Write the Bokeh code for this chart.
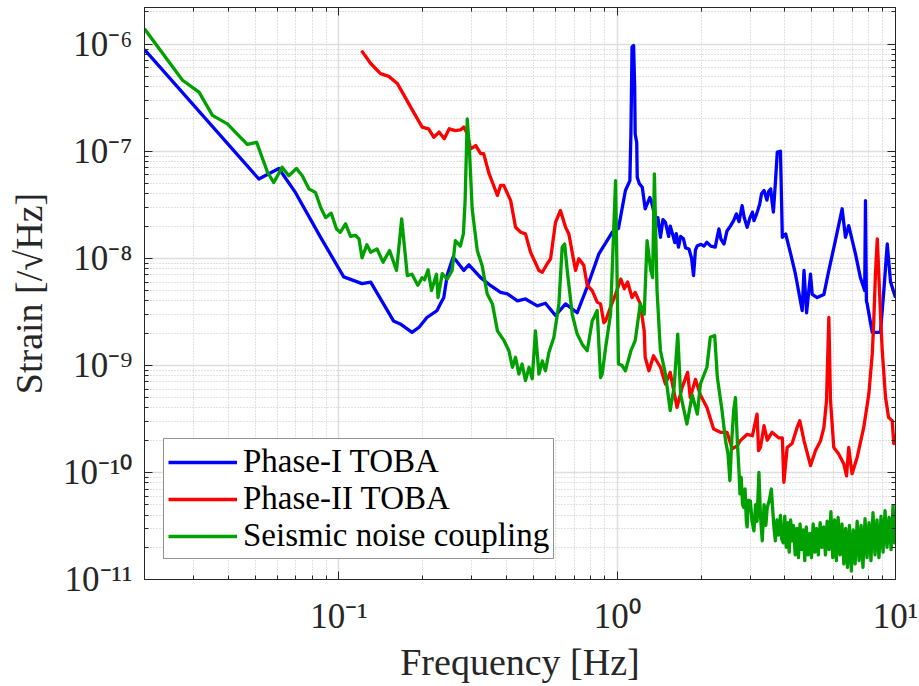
from bokeh.plotting import figure
from bokeh.models import (LogAxis, FixedTicker, Legend, LegendItem, Range1d,
                          CustomJSTickFormatter, CustomLabelingPolicy)
from bokeh.embed import file_html
from bokeh.resources import INLINE

# ---------------- data ----------------
blue_f = [0.02, 0.0515, 0.0608, 0.0698, 0.0859, 0.104, 0.121, 0.130, 0.157, 0.166,
          0.183, 0.194, 0.207, 0.225, 0.232, 0.238, 0.245, 0.257, 0.263, 0.281, 0.293,
          0.323, 0.351, 0.381, 0.403, 0.438, 0.468, 0.516, 0.552, 0.600, 0.652, 0.718,
          0.780, 0.859, 0.959, 1.01, 1.07, 1.11, 1.12, 1.13, 1.145, 1.155, 1.16, 1.175,
          1.18, 1.20, 1.23, 1.26, 1.31, 1.33, 1.35, 1.38, 1.40, 1.43, 1.46, 1.49, 1.53,
          1.55, 1.58, 1.61, 1.63, 1.66, 1.69, 1.73, 1.76, 1.81, 1.85, 1.88, 1.91, 1.94,
          2.00, 2.05, 2.10, 2.17, 2.25, 2.29, 2.32, 2.36, 2.42, 2.48, 2.55, 2.62, 2.68,
          2.74, 2.81, 2.86, 2.93, 3.00, 3.06, 3.10, 3.17, 3.25, 3.30, 3.37, 3.45, 3.50,
          3.56, 3.60, 3.64, 3.70, 3.76, 3.86, 3.92, 4.03, 4.20, 4.37, 4.62, 4.69, 4.79,
          4.95, 5.02, 5.23, 5.53, 5.76, 6.08, 6.43, 6.61, 6.79, 7.18, 7.48, 7.75, 7.80,
          7.86, 7.91, 8.25, 8.83, 9.08, 9.34, 9.60, 9.92, 10.0]
blue_s = [8.9e-7, 5.5e-8, 6.9e-8, 4.1e-8, 1.57e-8, 6.7e-9, 5.8e-9, 6.0e-9, 2.6e-9, 2.44e-9,
          2.03e-9, 2.27e-9, 2.8e-9, 3.25e-9, 3.8e-9, 4.3e-9, 7.0e-9, 1.02e-8, 9.6e-9, 7.7e-9, 8.7e-9,
          6.6e-9, 5.55e-9, 4.8e-9, 4.65e-9, 4.0e-9, 4.17e-9, 3.6e-9, 3.8e-9, 2.92e-9, 3.75e-9, 3.1e-9,
          5.4e-9, 1.1e-8, 1.75e-8, 1.9e-8, 4.3e-8, 5.3e-8, 1.5e-7, 9.4e-7, 9.7e-7, 4.0e-7, 1.45e-7, 1.2e-7,
          5.7e-8, 5.0e-8, 4.6e-8, 2.9e-8, 3.7e-8, 3.3e-8, 2.8e-8, 2.0e-8, 2.4e-8, 1.57e-8, 2.3e-8, 2.17e-8, 1.6e-8,
          2.0e-8, 1.69e-8, 1.4e-8, 1.7e-8, 1.27e-8, 1.6e-8, 1.52e-8, 1.25e-8, 1.22e-8, 1.0e-8, 6.9e-9, 1.2e-8, 1.31e-8,
          1.35e-8, 1.3e-8, 1.41e-8, 1.3e-8, 1.27e-8, 1.6e-8, 1.88e-8, 1.5e-8, 1.36e-8, 1.8e-8, 2.0e-8, 2.25e-8, 2.6e-8,
          2.2e-8, 3.1e-8, 2.4e-8, 1.95e-8, 2.4e-8, 2.7e-8, 2.25e-8, 2.6e-8, 3.2e-8, 4.0e-8, 4.3e-8, 3.5e-8, 4.2e-8,
          4.45e-8, 3.4e-8, 2.7e-8, 5.0e-8, 9.8e-8, 1.0e-7, 1.57e-8, 1.69e-8, 1.1e-8, 7.1e-9, 3.25e-9, 7.7e-9, 3.1e-9,
          7.1e-9, 4.6e-9, 4.3e-9, 4.6e-9, 7.7e-9, 1.46e-8, 2.9e-8, 1.57e-8, 2.02e-8, 1.1e-8, 6.6e-9, 5.0e-9, 3.46e-8,
          4.0e-9, 3.75e-9, 2.03e-9, 2.03e-9, 5.0e-9, 1.36e-8, 6.0e-9, 4.6e-9, 4.3e-9]

red_f = [0.1205, 0.130, 0.141, 0.151, 0.162, 0.181, 0.199, 0.210, 0.219, 0.229, 0.239, 0.249,
         0.262, 0.273, 0.281, 0.289, 0.297, 0.310, 0.323, 0.331, 0.346, 0.371, 0.381, 0.391,
         0.414, 0.431, 0.450, 0.468, 0.488, 0.523, 0.538, 0.560, 0.576, 0.600, 0.625, 0.652,
         0.670, 0.708, 0.728, 0.758, 0.780, 0.813, 0.847, 0.871, 0.895, 0.908, 0.946, 0.986,
         1.03, 1.06, 1.09, 1.13, 1.16, 1.21, 1.25, 1.26, 1.30, 1.35, 1.43, 1.49, 1.55, 1.64,
         1.71, 1.79, 1.83, 1.91, 1.99, 2.10, 2.22, 2.35, 2.48, 2.59, 2.70, 2.77, 2.93, 3.06,
         3.18, 3.22, 3.27, 3.37, 3.46, 3.60, 3.81, 3.92, 3.97, 4.08, 4.25, 4.43, 4.53, 4.69,
         4.95, 5.16, 5.38, 5.53, 5.65, 5.76, 5.84, 6.00, 6.25, 6.52, 6.67, 6.79, 6.98, 7.28,
         7.69, 8.02, 8.25, 8.35, 8.47, 8.60, 8.70, 8.83, 8.96, 9.21, 9.44, 9.73, 9.86, 10.0]
red_s = [8.7e-7, 6.6e-7, 5.3e-7, 5.0e-7, 4.3e-7, 2.58e-7, 1.68e-7, 1.62e-7, 1.35e-7, 1.51e-7, 1.31e-7, 1.62e-7,
         1.56e-7, 1.58e-7, 1.68e-7, 1.46e-7, 1.05e-7, 1.13e-7, 9.5e-8, 9.5e-8, 6.2e-8, 3.86e-8, 4.8e-8, 4.8e-8,
         3.46e-8, 1.95e-8, 1.75e-8, 1.69e-8, 1.14e-8, 7.7e-9, 7.4e-9, 8.9e-9, 9.9e-9, 2.17e-8, 2.8e-8, 1.95e-8,
         1.69e-8, 7.7e-9, 9.9e-9, 8.6e-9, 5.6e-9, 5.0e-9, 3.9e-9, 3.75e-9, 2.5e-9, 2.6e-9, 3.5e-9, 4.6e-9,
         6.4e-9, 5.2e-9, 6.0e-9, 4.3e-9, 4.8e-9, 3.75e-9, 2.1e-9, 1.19e-9, 8.9e-10, 1.23e-9, 9.6e-10, 6.7e-10, 8.6e-10, 4.05e-10,
         6.2e-10, 8.6e-10, 5.0e-10, 7.4e-10, 5.3e-10, 4.05e-10, 2.55e-10, 2.37e-10, 2.37e-10, 1.66e-10, 1.78e-10, 1.98e-10, 2.27e-10, 2.2e-10,
         3.5e-10, 1.6e-10, 1.71e-10, 2.73e-10, 2.0e-10, 2.37e-10, 2.1e-10, 2.1e-10, 8.1e-11, 1.71e-10, 1.86e-10, 2.63e-10, 3.04e-10, 1.98e-10,
         1.16e-10, 1.6e-10, 1.98e-10, 2.63e-10, 4.7e-10, 2.8e-9, 4.7e-10, 1.71e-10, 1.49e-10, 1.2e-10, 9.3e-11, 1.71e-10, 9.7e-11, 1.38e-10,
         2.63e-10, 5.4e-10, 1.28e-9, 2.5e-9, 7.1e-9, 1.52e-8, 7.7e-9, 3.0e-9, 1.37e-9, 5.0e-10, 3.27e-10, 3.04e-10, 1.86e-10, 2.27e-10]

green_f = [0.02, 0.0274, 0.0314, 0.0351, 0.0397, 0.0468, 0.0506, 0.0553, 0.0583, 0.0625, 0.066,
           0.0703, 0.0738, 0.078, 0.0824, 0.0859, 0.0895, 0.0938, 0.098, 0.101, 0.1056, 0.110,
           0.1145, 0.118, 0.121, 0.126, 0.130, 0.137, 0.144, 0.152, 0.161, 0.168, 0.176, 0.183,
           0.192, 0.199, 0.203, 0.209, 0.215, 0.224, 0.227, 0.235, 0.245, 0.255, 0.262, 0.273,
           0.280, 0.284, 0.289, 0.294, 0.301, 0.314, 0.327, 0.341, 0.356, 0.371, 0.392, 0.408,
           0.420, 0.431, 0.443, 0.455, 0.468, 0.482, 0.495, 0.508, 0.523, 0.538, 0.552, 0.568,
           0.592, 0.617, 0.634, 0.647, 0.661, 0.689, 0.718, 0.749, 0.780, 0.813, 0.847, 0.871,
           0.883, 0.908, 0.946, 0.986, 1.01, 1.04, 1.07, 1.12, 1.16, 1.21, 1.25, 1.28, 1.32,
           1.34, 1.36, 1.39, 1.42, 1.43, 1.49, 1.55, 1.60, 1.65, 1.69, 1.78, 1.86, 1.94, 1.99,
           2.10, 2.16, 2.24, 2.29, 2.38, 2.45, 2.50, 2.54, 2.58, 2.62, 2.66, 2.70, 2.74, 2.76,
           2.79, 2.82, 2.85, 2.88, 2.91, 2.93, 2.96, 3.01, 3.05, 3.10, 3.14, 3.18, 3.23, 3.27,
           3.32, 3.37, 3.42, 3.46, 3.52, 3.58, 3.62, 3.66, 3.70, 3.75, 3.80, 3.86, 3.90,
           3.95, 4.00, 4.05, 4.10, 4.15, 4.20, 4.25, 4.30, 4.36, 4.42, 4.48, 4.54, 4.60, 4.66,
           4.72, 4.78, 4.85, 4.92, 4.99, 5.06, 5.13, 5.20, 5.28, 5.36, 5.44, 5.52, 5.60, 5.68,
           5.77, 5.86, 5.95, 6.04, 6.13, 6.22, 6.32, 6.42, 6.52, 6.62, 6.72, 6.83, 6.94, 7.05,
           7.16, 7.28, 7.40, 7.52, 7.64, 7.77, 7.90, 8.03, 8.16, 8.30, 8.44, 8.58, 8.72, 8.87,
           9.02, 9.17, 9.32, 9.48, 9.64, 9.80, 9.92, 10.0]
green_s = [1.39e-6, 4.6e-7, 3.56e-7, 2.16e-7, 1.8e-7, 1.16e-7, 1.21e-7, 6.4e-8, 5.1e-8, 7.1e-8, 5.9e-8,
           6.9e-8, 5.9e-8, 4.45e-8, 4.1e-8, 3.0e-8, 2.4e-8, 2.64e-8, 1.88e-8, 1.75e-8, 2.1e-8, 1.6e-8,
           1.64e-8, 1.52e-8, 1.01e-8, 1.34e-8, 1.14e-8, 1.22e-8, 9.2e-9, 1.18e-8, 7.7e-9, 2.33e-8, 6.9e-9, 7.1e-9,
           5.6e-9, 6.6e-9, 6.3e-9, 7.8e-9, 5.0e-9, 7.1e-9, 4.3e-9, 7.2e-9, 6.4e-9, 7.7e-9, 1.46e-8, 1.3e-8,
           1.7e-8, 3.5e-8, 2.0e-7, 1.09e-7, 2.9e-8, 1.18e-8, 8.5e-9, 4.65e-9, 3.75e-9, 2.1e-9, 1.7e-9, 1.37e-9,
           9.6e-10, 1.19e-9, 8.3e-10, 1.03e-9, 7.2e-10, 9.6e-10, 7.5e-10, 2.1e-9, 8.3e-10, 1.1e-9, 8.9e-10, 1.32e-9,
           1.83e-9, 3.75e-9, 1.27e-8, 1.36e-8, 7.7e-9, 3.0e-9, 1.96e-9, 1.57e-9, 1.37e-9, 2.6e-9, 3.25e-9, 7.7e-10,
           8.3e-10, 1.46e-9, 3.0e-9, 5.3e-8, 1.03e-9, 1.0e-9, 8.9e-10, 1.37e-9, 1.7e-9, 3.75e-9, 3.0e-9, 1.46e-8, 7.7e-9,
           6.6e-9, 6.15e-8, 5.0e-9, 1.83e-9, 1.37e-9, 8.3e-10, 3.78e-10, 6.2e-10, 1.96e-9, 5.3e-10, 2.83e-10, 5.3e-10, 3.5e-10, 6.7e-10,
           9.6e-10, 1.83e-9, 1.9e-9, 7.7e-10, 3.78e-10, 1.98e-10, 1.5e-10, 8.4e-11, 2.0e-10, 3.78e-10, 5.0e-10, 2.0e-10, 1.0e-10, 6.3e-11,
           9.0e-11, 5.0e-11, 4.7e-11, 7.0e-11, 3.5e-11, 3.1e-11, 5.5e-11, 5.4e-11, 3.5e-11, 2.85e-11, 5.0e-11, 3.5e-11, 1.0e-10, 4.0e-11,
           2.3e-11, 5.0e-11, 3.2e-11, 4.7e-11, 5.5e-11, 7.0e-11, 4.5e-11, 3.0e-11, 2.3e-11, 3.6e-11, 2.6e-11, 3.97e-11, 2.4e-11,
           2.2e-11, 3.9e-11, 2.0e-11, 3.4e-11, 1.8e-11, 3.6e-11, 2.3e-11, 3.2e-11, 1.7e-11, 3.0e-11, 1.6e-11, 3.3e-11, 1.9e-11, 2.9e-11,
           1.5e-11, 3.1e-11, 1.7e-11, 2.7e-11, 1.6e-11, 3.3e-11, 1.8e-11, 3.0e-11, 1.7e-11, 3.4e-11, 2.0e-11, 3.1e-11, 1.7e-11, 3.5e-11,
           1.9e-11, 4.3e-11, 1.6e-11, 3.6e-11, 1.5e-11, 3.8e-11, 1.7e-11, 3.3e-11, 1.4e-11, 3.0e-11, 1.3e-11, 3.2e-11, 1.2e-11, 2.9e-11,
           1.4e-11, 3.5e-11, 1.5e-11, 3.2e-11, 1.3e-11, 3.7e-11, 1.6e-11, 3.4e-11, 1.5e-11, 4.2e-11, 1.7e-11, 3.6e-11, 1.6e-11, 3.9e-11,
           1.8e-11, 4.4e-11, 2.0e-11, 3.8e-11, 1.9e-11, 4.9e-11, 2.2e-11, 3.6e-11]

series_labels = ["Phase-I TOBA", "Phase-II TOBA", "Seismic noise coupling"]
series_colors = ["#0000ff", "#ff0000", "#00a000"]

x_ticks = [0.1, 1.0, 10.0]
x_tick_labels = ["10\u207b\u00b9", "10\u2070", "10\u00b9"]
y_ticks = [1e-11, 1e-10, 1e-9, 1e-8, 1e-7, 1e-6]
y_tick_labels = ["10\u207b\u00b9\u00b9", "10\u207b\u00b9\u2070", "10\u207b\u2079",
                 "10\u207b\u2078", "10\u207b\u2077", "10\u207b\u2076"]

# ---------------- figure ----------------
FONT = "Liberation Serif"
AX = "#262626"
LW = 3.3

p = figure(width=919, height=686, x_axis_type="log", y_axis_type="log",
           x_range=Range1d(0.02, 10), y_range=Range1d(1e-11, 2.2e-6),
           output_backend="svg", toolbar_location=None,
           min_border_left=144, min_border_right=24, min_border_top=7,
           min_border_bottom=107, background_fill_color="white",
           border_fill_color="white", outline_line_color=AX)

x_minor = [m * 10.0 ** e for e in (-2, -1, 0) for m in range(2, 10)]
y_minor = [m * 10.0 ** e for e in range(-11, -5) for m in range(2, 10)]
xt = FixedTicker(ticks=x_ticks, minor_ticks=x_minor)
yt = FixedTicker(ticks=y_ticks, minor_ticks=y_minor)

fmt_code = """
for (let i = 0; i < tvals.length; i++) {
  if (Math.abs(Math.log10(tvals[i]) - Math.log10(tick)) < 1e-6) return tlabels[i];
}
return "";
"""
xfmt = CustomJSTickFormatter(args=dict(tvals=x_ticks, tlabels=x_tick_labels), code=fmt_code)
yfmt = CustomJSTickFormatter(args=dict(tvals=y_ticks, tlabels=y_tick_labels), code=fmt_code)
blank = CustomJSTickFormatter(code='return "";')
no_labels = CustomLabelingPolicy(code="""
for (const i of indices) { indices.unset(i) }
return indices
""")


def style_axis(ax, ticker, formatter, show_labels):
    ax.ticker = ticker
    ax.formatter = formatter
    ax.axis_line_color = AX
    ax.major_tick_line_color = AX
    ax.minor_tick_line_color = AX
    ax.major_tick_in = 8
    ax.major_tick_out = 0
    ax.minor_tick_in = 4
    ax.minor_tick_out = 0
    ax.major_label_text_font = FONT
    ax.major_label_text_color = AX
    ax.axis_label_text_font = FONT
    ax.axis_label_text_color = AX
    ax.axis_label_text_font_style = "normal"
    if not show_labels:
        ax.major_label_policy = no_labels
        ax.major_label_text_font_size = "1px"
        ax.major_label_standoff = 0


xa = p.xaxis[0]
style_axis(xa, xt, xfmt, True)
xa.major_label_text_font_size = "35px"
xa.major_label_standoff = 17
xa.axis_label = "Frequency [Hz]"
xa.axis_label_text_font_size = "38px"
xa.axis_label_standoff = 2

ya = p.yaxis[0]
style_axis(ya, yt, yfmt, True)
ya.major_label_text_font_size = "35px"
ya.major_label_standoff = 12
ya.axis_label = "Strain [/\u221aHz]"
ya.axis_label_text_font_size = "38px"
ya.axis_label_standoff = 10

top = LogAxis()
style_axis(top, xt, blank, False)
p.add_layout(top, "above")
right = LogAxis()
style_axis(right, yt, blank, False)
p.add_layout(right, "right")

for g, t in ((p.xgrid[0], xt), (p.ygrid[0], yt)):
    g.ticker = t
    g.grid_line_color = "#dedede"
    g.grid_line_width = 1.5
    g.minor_grid_line_color = "#c4c4c4"
    g.minor_grid_line_dash = "1 2"
    g.minor_grid_line_width = 1

rb = p.line(blue_f, blue_s, line_color=series_colors[0], line_width=LW, line_join="round")
rr = p.line(red_f, red_s, line_color=series_colors[1], line_width=LW, line_join="round")
rg = p.line(green_f, green_s, line_color=series_colors[2], line_width=LW, line_join="round")

legend = Legend(items=[LegendItem(label=series_labels[0], renderers=[rb]),
                       LegendItem(label=series_labels[1], renderers=[rr]),
                       LegendItem(label=series_labels[2], renderers=[rg])],
                location=(19, 20), orientation="vertical",
                label_text_font=FONT, label_text_font_size="33px", label_text_color="#000000",
                label_height=36, glyph_height=36, glyph_width=69, label_standoff=6,
                spacing=0, padding=4, margin=0,
                border_line_color=AX, border_line_width=1,
                background_fill_color="white", background_fill_alpha=1.0)
p.add_layout(legend)

open("out.html", "w").write(file_html(p, INLINE))
